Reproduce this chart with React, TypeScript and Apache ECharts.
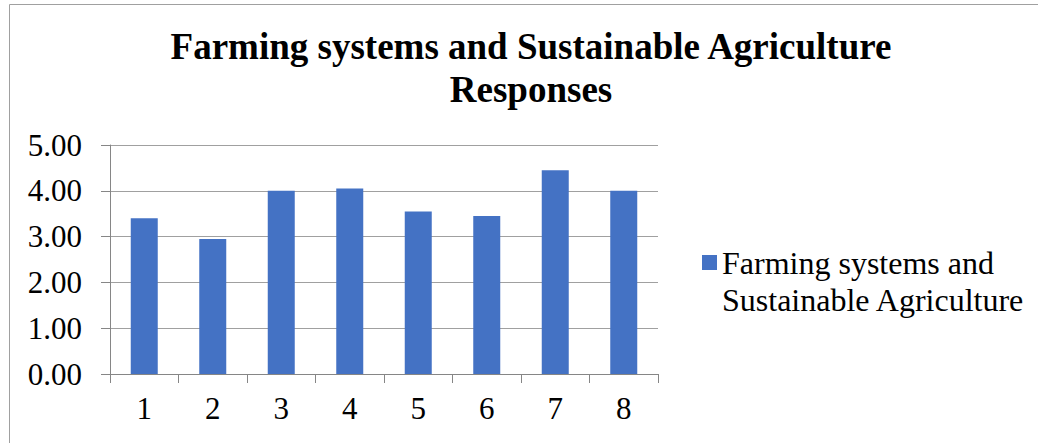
import React, { useEffect, useRef } from "react";
import * as echarts from "echarts";

const categories = ["1", "2", "3", "4", "5", "6", "7", "8"];
const values = [3.4, 2.95, 4.0, 4.05, 3.55, 3.45, 4.45, 4.0];
const seriesName = "Farming systems and\nSustainable Agriculture";
const titleText = "Farming systems and Sustainable Agriculture\nResponses";

const FONT = "'Times New Roman', 'Liberation Serif', serif";

export default function App() {
  const ref = useRef<HTMLDivElement>(null);
  useEffect(() => {
    if (!ref.current) return;
    const chart = echarts.init(ref.current, null, { renderer: "svg" });
    chart.setOption({
      animation: false,
      backgroundColor: "#ffffff",
      title: {
        text: titleText,
        left: 531,
        top: 25,
        padding: 0,
        textAlign: "center",
        textStyle: {
          fontFamily: FONT,
          fontSize: 37,
          fontWeight: "bold",
          color: "#000",
          lineHeight: 43,
        },
      },
      legend: {
        left: 702,
        top: 207,
        padding: 0,
        itemWidth: 15,
        itemHeight: 15,
        icon: "rect",
        formatter: (name: string) => "\n" + name,
        textStyle: {
          fontFamily: FONT,
          fontSize: 32,
          color: "#000",
          lineHeight: 37,
        },
        data: [seriesName],
      },
      grid: { left: 110, right: 380, top: 145, bottom: 69, containLabel: false },
      xAxis: {
        type: "category",
        data: categories,
        axisLine: { lineStyle: { color: "#868686", width: 1 } },
        axisTick: { show: true, length: 9, lineStyle: { color: "#868686" } },
        axisLabel: { fontFamily: FONT, fontSize: 31, color: "#000", margin: 19 },
      },
      yAxis: {
        type: "value",
        min: 0,
        max: 5,
        interval: 1,
        axisLine: { show: true, lineStyle: { color: "#868686", width: 1 } },
        axisTick: { show: true, length: 9, lineStyle: { color: "#868686" } },
        splitLine: { show: true, lineStyle: { color: "#a0a0a0", width: 1 } },
        axisLabel: {
          fontFamily: FONT,
          fontSize: 31,
          color: "#000",
          margin: 28,
          formatter: (v: number) => v.toFixed(2),
        },
      },
      series: [
        {
          name: seriesName,
          type: "bar",
          data: values,
          barWidth: 27,
          itemStyle: { color: "#4472C4" },
        },
      ],
      graphic: [
        {
          type: "rect",
          shape: { x: 9.5, y: 4.5, width: 1200, height: 600 },
          style: { fill: "none", stroke: "#a0a0a0", lineWidth: 1 },
          silent: true,
        },
      ],
    });
    return () => chart.dispose();
  }, []);
  return (
    <div
      ref={ref}
      style={{ position: "absolute", left: 0, top: 0, width: 1038, height: 443 }}
    />
  );
}
